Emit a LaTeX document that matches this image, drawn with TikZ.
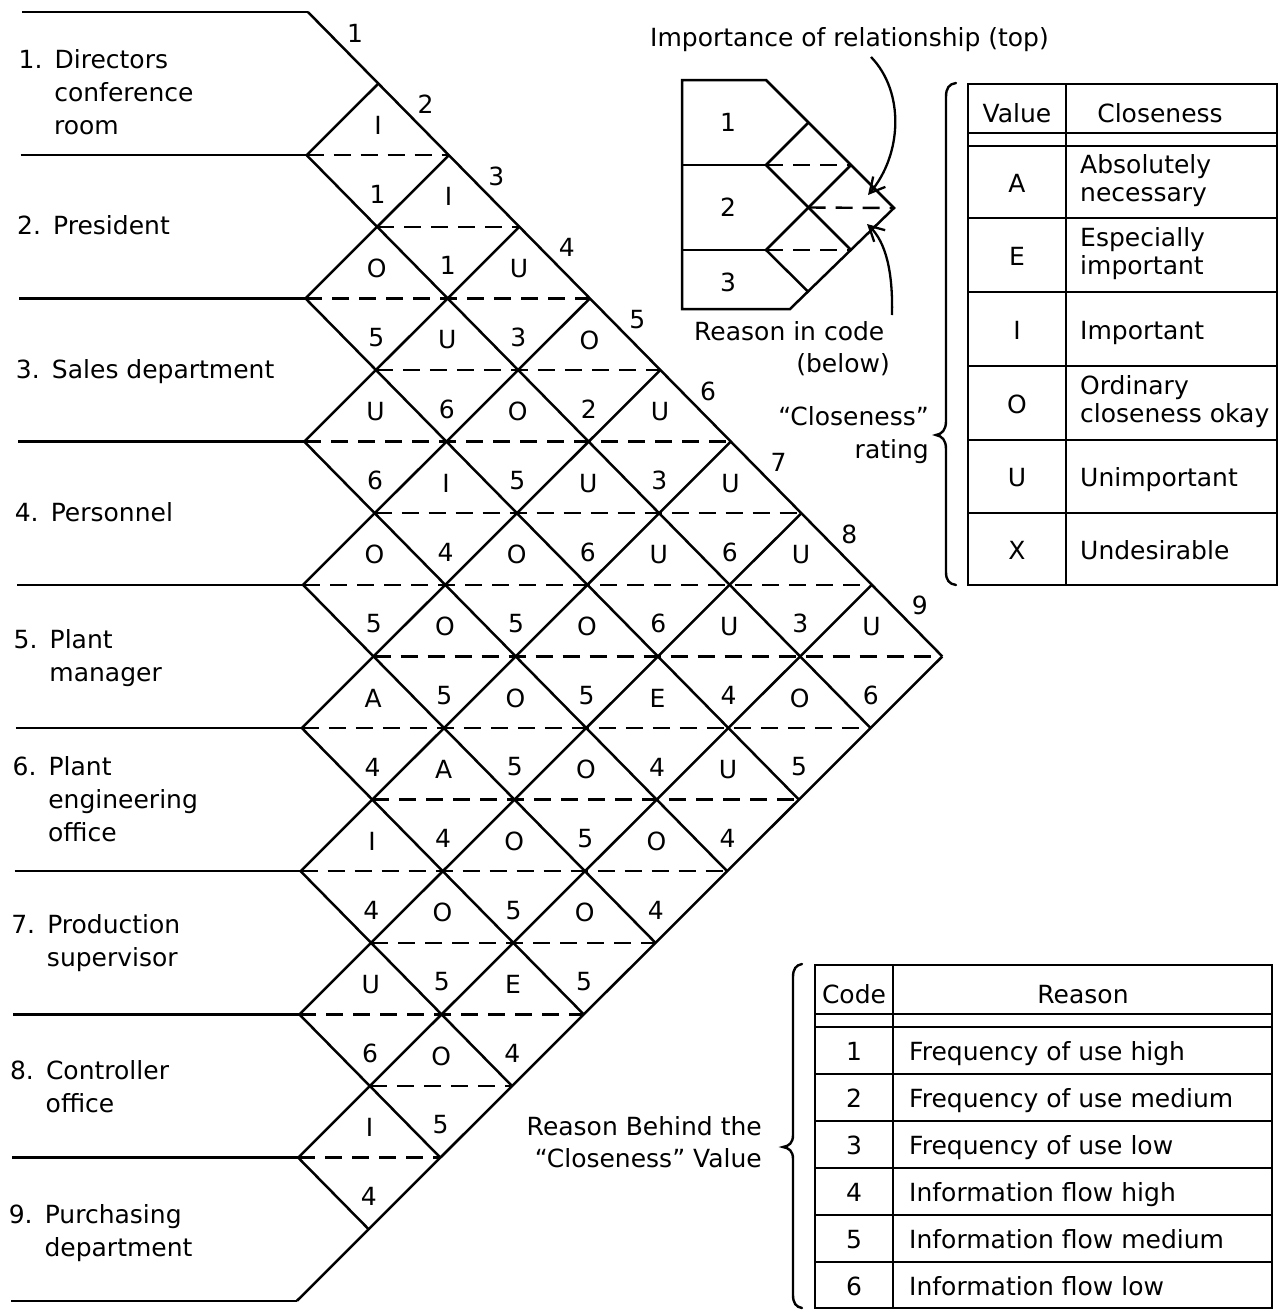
\documentclass[tikz,border=0pt]{standalone}
\usepackage{fontspec}
\setmainfont{DejaVu Sans}
\usetikzlibrary{arrows.meta}
\begin{document}
\begin{tikzpicture}[x=1pt,y=-1pt,
  ln/.style={line width=2.5pt},
  dsh/.style={line width=2.4pt, dash pattern=on 17pt off 10pt},
  txt/.style={inner sep=0pt, font=\fontsize{25}{30}\selectfont},
  cell/.style={txt, anchor=center},
  cellb/.style={txt, anchor=base},
  lbl/.style={txt, anchor=base west},
  rlbl/.style={txt, anchor=base east},
  arr/.style={line width=2.3pt, -{Straight Barb[length=15pt,width=16pt,line width=2.3pt]}},
  brace/.style={line width=2.4pt, line cap=round}
  ]
\useasboundingbox[fill=white] (0,0) rectangle (1283,1315);

% ---------------- main relationship chart ----------------
\begin{scope}[xslant=0.0085]
  \foreach \b in {0,...,9} {
    \coordinate (L\b) at (22,{12+\b*143.2});
    \coordinate (V\b) at (308,{12+\b*143.2});
    \draw[ln] (L\b) -- (V\b);
  }
  \foreach \b in {0,...,8} {
    \coordinate (D\b) at ({308+(9-\b)*71.1},{12+(9+\b)*71.6});
    \draw[ln] (V\b) -- (D\b);
  }
  \foreach \b in {1,...,9} {
    \coordinate (U\b) at ({308+\b*71.1},{12+\b*71.6});
    \draw[ln] (V\b) -- (U\b);
  }
  \foreach \k in {2,...,16} {
    \pgfmathtruncatemacro{\amin}{mod(\k,2)}
    \pgfmathtruncatemacro{\amax}{min(\k,18-\k)}
    \coordinate (sa\k) at ({308+\amin*71.1},{12+\k*71.6});
    \coordinate (sb\k) at ({308+\amax*71.1},{12+\k*71.6});
    \draw[dsh] (sa\k) -- (sb\k);
  }
  \foreach \i/\j/\L/\C in {
    1/2/I/1, 1/3/I/1, 1/4/U/3, 1/5/O/2, 1/6/U/3, 1/7/U/6, 1/8/U/3, 1/9/U/6,
    2/3/O/5, 2/4/U/6, 2/5/O/5, 2/6/U/6, 2/7/U/6, 2/8/U/4, 2/9/O/5,
    3/4/U/6, 3/5/I/4, 3/6/O/5, 3/7/O/5, 3/8/E/4, 3/9/U/4,
    4/5/O/5, 4/6/O/5, 4/7/O/5, 4/8/O/5, 4/9/O/4,
    5/6/A/4, 5/7/A/4, 5/8/O/5, 5/9/O/5,
    6/7/I/4, 6/8/O/5, 6/9/E/4,
    7/8/U/6, 7/9/O/5,
    8/9/I/4} {
    \pgfmathsetmacro{\cx}{308+(\j-\i)*71.1}
    \pgfmathsetmacro{\cy}{12+(\i+\j-1)*71.6}
    \node[cell] (t\i\j) at ({\cx},{\cy-30}) {\L};
    \node[cell] (c\i\j) at ({\cx},{\cy+39}) {\C};
  }
  % department names
  \node[lbl] (d1n) at (19,68) {1.};
  \node[lbl] (d1a) at (55,68) {Directors};
  \node[lbl] (d1b) at (55,101) {conference};
  \node[lbl] (d1c) at (55,134) {room};
  \node[lbl] (d2n) at (19,234) {2.};
  \node[lbl] (d2a) at (55,234) {President};
  \node[lbl] (d3n) at (19,378) {3.};
  \node[lbl] (d3a) at (55,378) {Sales department};
  \node[lbl] (d4n) at (19,521) {4.};
  \node[lbl] (d4a) at (55,521) {Personnel};
  \node[lbl] (d5n) at (19,648) {5.};
  \node[lbl] (d5a) at (55,648) {Plant};
  \node[lbl] (d5b) at (55,681) {manager};
  \node[lbl] (d6n) at (19,775) {6.};
  \node[lbl] (d6a) at (55,775) {Plant};
  \node[lbl] (d6b) at (55,808) {engineering};
  \node[lbl] (d6c) at (55,841) {office};
  \node[lbl] (d7n) at (19,933) {7.};
  \node[lbl] (d7a) at (55,933) {Production};
  \node[lbl] (d7b) at (55,966) {supervisor};
  \node[lbl] (d8n) at (19,1079) {8.};
  \node[lbl] (d8a) at (55,1079) {Controller};
  \node[lbl] (d8b) at (55,1112) {office};
  \node[lbl] (d9n) at (19,1223) {9.};
  \node[lbl] (d9a) at (55,1223) {Purchasing};
  \node[lbl] (d9b) at (55,1256) {department};
\end{scope}

% department numbers along the upper edge
\foreach \b in {1,...,9} {
  \node[cell] (n\b) at ({355+(\b-1)*70.6},{33+(\b-1)*71.6}) {\b};
}

% ---------------- key diagram ----------------
\node[lbl] (imp) at (650,46) {Importance of relationship (top)};
\coordinate (m1) at (682,80);
\coordinate (m2) at (766,80);
\coordinate (m3) at (894,208);
\coordinate (m4) at (790,309);
\coordinate (m5) at (682,309);
\draw[ln] (m1) -- (m2) -- (m3) -- (m4) -- (m5) -- cycle;
\coordinate (h1a) at (682,165); \coordinate (h1b) at (766,165);
\coordinate (h2a) at (682,250); \coordinate (h2b) at (766,250);
\draw[ln] (h1a) -- (h1b);
\draw[ln] (h2a) -- (h2b);
\coordinate (g1) at (808.5,122.5);
\coordinate (g2) at (851,250);
\coordinate (g3) at (851,165);
\coordinate (g4) at (808.5,292);
\coordinate (g5) at (808.5,207.5);
\draw[ln] (g1) -- (h1b) -- (g2);
\draw[ln] (g3) -- (h2b) -- (g4);
\draw[dsh] (h1b) -- (g3);
\draw[dsh] (g5) -- (m3);
\draw[dsh] (h2b) -- (g2);
\node[cell] (k1) at (728,122) {1};
\node[cell] (k2) at (728,207) {2};
\node[cell] (k3) at (728,282) {3};
\coordinate (a1s) at (871,57);
\coordinate (a1e) at (868,195);
\coordinate (a2s) at (892,315);
\coordinate (a2e) at (867,224);
\draw[arr] (a1s) .. controls (905,92) and (902,155) .. (a1e);
\draw[arr] (a2s) .. controls (893,272) and (886,242) .. (a2e);
\node[lbl] (rc1) at (694,340) {Reason in code};
\node[rlbl] (rc2) at (890,372) {(below)};

% ---------------- closeness table ----------------
\node[rlbl] (cr1) at (929,425) {“Closeness”};
\node[rlbl] (cr2) at (929,458) {rating};
\draw[brace] (956,83) .. controls (949,84) and (946,88) .. (946,97) -- (946,421)
  .. controls (946,430) and (942,434) .. (936,435)
  .. controls (942,436) and (946,440) .. (946,449) -- (946,572)
  .. controls (946,580) and (949,584) .. (956,585);
\draw[ln] (968,84) rectangle (1277,585);
\draw[ln] (1066,84) -- (1066,585);
\foreach \yy in {133,146,218,292,366,440,513} {
  \draw[ln] (968,\yy) -- (1277,\yy);
}
\node[cellb] (tv) at (1017,122) {Value};
\node[cellb] (tc) at (1160,122) {Closeness};
\node[cellb] (vA) at (1017,192) {A};
\node[cellb] (vE) at (1017,265) {E};
\node[cellb] (vI) at (1017,339) {I};
\node[cellb] (vO) at (1017,413) {O};
\node[cellb] (vU) at (1017,486) {U};
\node[cellb] (vX) at (1017,559) {X};
\node[lbl] (wA1) at (1080,173) {Absolutely};
\node[lbl] (wA2) at (1080,201) {necessary};
\node[lbl] (wE1) at (1080,246) {Especially};
\node[lbl] (wE2) at (1080,274) {important};
\node[lbl] (wI) at (1080,339) {Important};
\node[lbl] (wO1) at (1080,394) {Ordinary};
\node[lbl] (wO2) at (1080,422) {closeness okay};
\node[lbl] (wU) at (1080,486) {Unimportant};
\node[lbl] (wX) at (1080,559) {Undesirable};

% ---------------- reason table ----------------
\node[rlbl] (rb1) at (762,1135) {Reason Behind the};
\node[rlbl] (rb2) at (762,1167) {“Closeness” Value};
\draw[brace] (802,964) .. controls (796,965) and (793,969) .. (793,977) -- (793,1135)
  .. controls (793,1143) and (789,1146) .. (783,1147)
  .. controls (789,1148) and (793,1151) .. (793,1159) -- (793,1295)
  .. controls (793,1303) and (796,1307) .. (802,1308);
\draw[ln] (815,965) rectangle (1272,1308);
\draw[ln] (893,965) -- (893,1308);
\foreach \yy in {1014,1027,1074,1121,1168,1215,1262} {
  \draw[ln] (815,\yy) -- (1272,\yy);
}
\node[cellb] (hc) at (854,1003) {Code};
\node[cellb] (hr) at (1083,1003) {Reason};
\foreach \n/\t/\yy in {1/Frequency of use high/1060, 2/Frequency of use medium/1107,
  3/Frequency of use low/1154, 4/Information flow high/1201,
  5/Information flow medium/1248, 6/Information flow low/1295} {
  \node[cellb] (rc\n) at (854,\yy) {\n};
  \node[lbl] (rt\n) at (909,\yy) {\t};
}
\end{tikzpicture}
\end{document}
